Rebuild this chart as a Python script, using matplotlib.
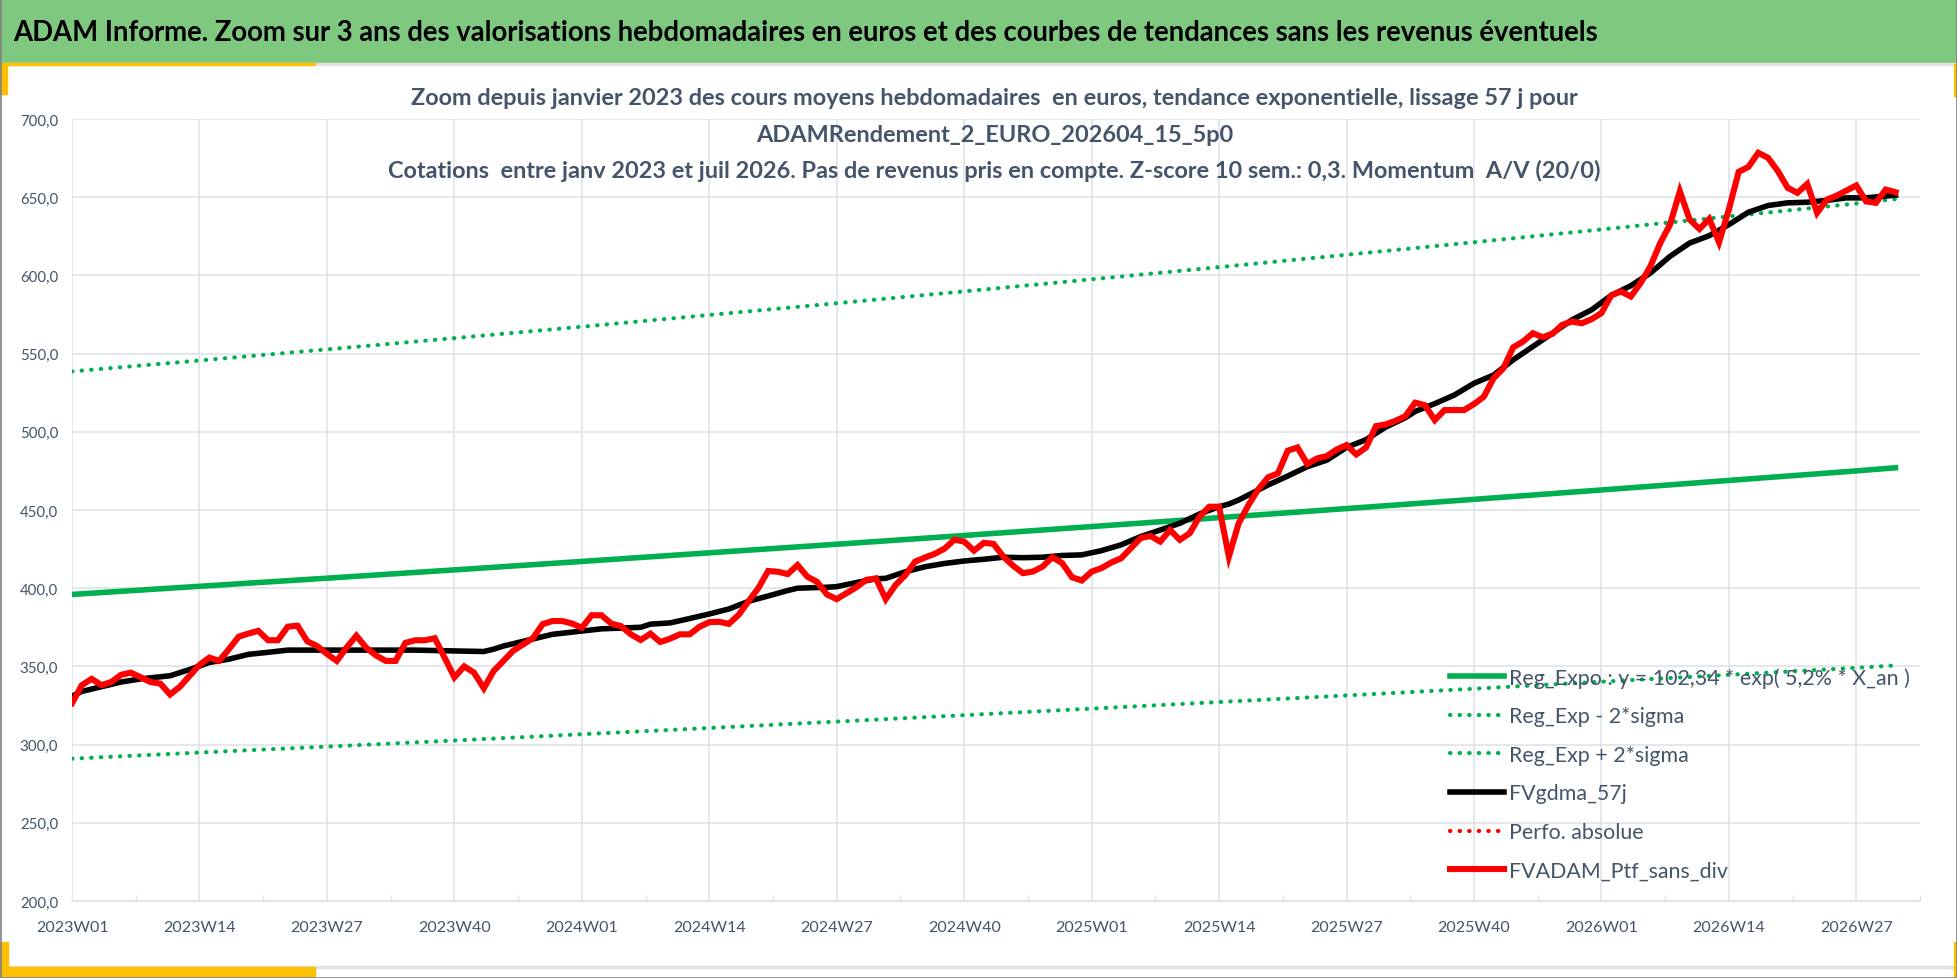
import numpy as np
import matplotlib.pyplot as plt
from matplotlib.patches import Rectangle

plt.rcParams['font.family'] = ['Lato', 'DejaVu Sans']

# weekly prices, 2023W01 .. 2026W31 (index 0 .. 186)
ptf = [326.5, 338, 342, 338, 340, 344.6, 346, 343, 340, 339,
       332, 337, 344, 351, 355.6, 353.5, 361, 369, 371, 372.7,
       366.7, 366.7, 375.4, 376, 366, 363, 358, 353.5, 362, 369.6,
       362, 357, 353.5, 353.5, 365, 366.7, 366.7, 368, 355.6, 343,
       350, 346, 336, 347, 353.5, 360, 364, 368, 377, 379,
       379, 377.4, 374.7, 382.7, 382.7, 377.4, 375.7, 370.5, 366.9, 370.9,
       365.6, 367.7, 370.5, 370.5, 375.3, 378.3, 378.5, 377.2, 383, 391.6,
       400, 411, 410.5, 409, 414.8, 407.4, 404, 396, 393, 396.8,
       400.6, 405.3, 406.3, 393, 402, 408.4, 417, 419.6, 422, 425.3,
       431, 429.8, 424, 429, 428.3, 420.2, 414.3, 409.6, 410.6, 413.8,
       419.8, 416, 407, 404.9, 410.6, 412.8, 416.4, 419.1, 425.5, 432,
       433.4, 429.8, 437.2, 430.9, 435.1, 445.7, 452.1, 452.1, 420.2, 441.5,
       453.2, 463.2, 470.9, 473.4, 487.9, 490, 479.4, 483, 484.5, 488.7,
       491.5, 485.5, 490, 503.6, 504.7, 507, 510, 518.6, 517, 507.5,
       513.9, 513.9, 513.9, 517.7, 522.4, 534.2, 540.6, 554, 557.7, 563,
       560.5, 562.6, 568.4, 570.5, 569.4, 572, 575.9, 587.2, 589.7, 586.5,
       595.1, 605.8, 620.7, 632.5, 653.8, 635.7, 629.7, 636.1, 621.2, 642.1,
       666.2, 669.4, 678.4, 675.2, 666.7, 656, 652.8, 658.5, 640, 648.5,
       651, 654.3, 657.5, 647.4, 646.4, 654.9, 653.2]

# 57 day moving average, read every week or two
gdma_wk = [0, 1, 3, 5, 7, 10, 12, 14, 16, 18, 20, 22, 26, 30, 35, 38, 42, 43, 44, 46,
           49, 52, 54, 58, 59, 61, 63, 65, 67, 69, 71, 73, 74, 77, 78, 80, 82, 83, 85, 87,
           89, 91, 93, 95, 97, 99, 101, 103, 105, 107, 109, 111, 113, 115, 117, 118, 119, 120, 122, 124,
           126, 128, 130, 132, 134, 136, 137, 139, 141, 143, 145, 147, 149, 151, 153, 155, 157, 159, 161, 163,
           165, 167, 169, 171, 173, 175, 177, 179, 181, 183, 186]
gdma = [331, 334, 337, 340, 342, 344, 348, 352.5, 354.6, 357.7, 359, 360.4, 360.4, 360.4, 360.4, 360, 359.5, 361, 363, 366,
        370.5, 372.6, 374, 375, 377, 377.8, 380.6, 383.5, 386.7, 391.6, 395, 398.5, 400, 400.6, 401, 403.6, 406, 406.3, 410.5, 413.7,
        415.8, 417.4, 418.5, 419.8, 419.5, 419.8, 420.9, 421.3, 424, 427.7, 433, 437.2, 441.5, 447.4, 452.1, 453.8, 456.4, 459.6, 466, 471.7,
        477.7, 481.9, 490, 495, 503, 509, 513, 518, 523.5, 531, 536.3, 546, 554.5, 563, 571.6, 578, 587.2, 593.4, 601.5, 612.2,
        620.7, 625.4, 632.5, 640.4, 644.7, 646.4, 646.8, 648, 649.6, 649.6, 651.3]

# exponential trend and +/- 2 sigma, read at each quarter
trend_wk = [0, 13, 26, 39, 52, 65, 78, 91, 104, 117, 130, 143, 156, 169, 182, 186]
reg_expo = [396, 401.2, 406.4, 411.7, 417.1, 422.6, 428.1, 433.7, 439.4, 445.1, 450.9, 456.8, 462.8, 468.9, 475.0, 477.0]
reg_low = [291, 294.9, 298.7, 302.6, 306.6, 310.6, 314.7, 318.8, 323, 327.2, 331.4, 335.7, 340.2, 344.6, 349.1, 350.6]
reg_high = [538.6, 545.6, 552.7, 559.9, 567.2, 574.7, 582.2, 589.8, 597.5, 605.3, 613.2, 621.2, 629.4, 637.7, 646.0, 648.8]

week_labels = ["2023W01", "2023W14", "2023W27", "2023W40", "2024W01", "2024W14", "2024W27", "2024W40",
               "2025W01", "2025W14", "2025W27", "2025W40", "2026W01", "2026W14", "2026W27"]
y_ticks = [200, 250, 300, 350, 400, 450, 500, 550, 600, 650, 700]

title = "ADAM Informe. Zoom sur 3 ans des valorisations hebdomadaires en euros et des courbes de tendances sans les revenus éventuels"
sub1 = "Zoom depuis janvier 2023 des cours moyens hebdomadaires  en euros, tendance exponentielle, lissage 57 j pour"
sub2 = "ADAMRendement_2_EURO_202604_15_5p0"
sub3 = "Cotations  entre janv 2023 et juil 2026. Pas de revenus pris en compte. Z-score 10 sem.: 0,3. Momentum  A/V (20/0)"

slate = '#44546a'
green = '#00b050'
grid = '#dde1e8'
gold = '#ffc000'
dots = (0, (0.1, 2.2))

fig = plt.figure(figsize=(19.58, 9.79), dpi=100)

# frame decorations
fig.patches.append(Rectangle((0, 0.9346), 1, 0.0654, transform=fig.transFigure, color='#7ec87f', zorder=0))
fig.patches.append(Rectangle((0, 0.9326), 1, 0.002, transform=fig.transFigure, color='#e4e4e4', zorder=0))
fig.patches.append(Rectangle((0, 0.9326), 0.161, 0.0025, transform=fig.transFigure, color=gold, zorder=1))
fig.patches.append(Rectangle((0, 0.903), 0.0036, 0.031, transform=fig.transFigure, color=gold, zorder=1))
fig.patches.append(Rectangle((0.9978, 0.901), 0.0022, 0.033, transform=fig.transFigure, color=gold, zorder=1))
fig.patches.append(Rectangle((0, 0.0105), 1, 0.0015, transform=fig.transFigure, color='#e0e0e0', zorder=0))
fig.patches.append(Rectangle((0, 0.002), 0.161, 0.0095, transform=fig.transFigure, color=gold, zorder=1))
fig.patches.append(Rectangle((0, 0.002), 0.0041, 0.035, transform=fig.transFigure, color=gold, zorder=1))
fig.patches.append(Rectangle((0.9978, 0.002), 0.0018, 0.035, transform=fig.transFigure, color=gold, zorder=1))
fig.patches.append(Rectangle((0.0003, 0.0005), 0.9994, 0.999, transform=fig.transFigure, fill=False,
                             edgecolor='#808080', linewidth=1.2, zorder=2))

fig.text(0.0066, 0.966, title, fontsize=19.8, fontweight='bold', color='black', va='center', ha='left')
fig.text(0.508, 0.899, sub1, fontsize=16.9, fontweight='bold', color=slate, ha='center', va='center')
fig.text(0.508, 0.862, sub2, fontsize=16.9, fontweight='bold', color=slate, ha='center', va='center')
fig.text(0.508, 0.825, sub3, fontsize=16.9, fontweight='bold', color=slate, ha='center', va='center')

ax = fig.add_axes([0.0368, 0.0787, 0.9438, 0.7987])
ax.set_facecolor('none')

ax.plot(trend_wk, reg_expo, color=green, linewidth=4, label="Reg_Expo : y = 102,34 * exp( 5,2% * X_an )", zorder=3)
ax.plot(trend_wk, reg_low, color=green, linewidth=3, linestyle=dots, dash_capstyle='round',
        label="Reg_Exp - 2*sigma", zorder=3)
ax.plot(trend_wk, reg_high, color=green, linewidth=3, linestyle=dots, dash_capstyle='round',
        label="Reg_Exp + 2*sigma", zorder=3)
ax.plot(gdma_wk, gdma, color='black', linewidth=4, label="FVgdma_57j", zorder=4)
ax.plot([], [], color='red', linewidth=3, linestyle=dots, dash_capstyle='round', label="Perfo. absolue")
ax.plot(np.arange(len(ptf)), ptf, color='red', linewidth=4.4, solid_joinstyle='miter',
        label="FVADAM_Ptf_sans_div", zorder=5)

ax.set_xlim(0, len(ptf) - 1)
ax.set_ylim(200, 700)
ax.set_xticks(np.arange(len(week_labels)) * 13)
ax.set_xticklabels(week_labels)
ax.set_xticks(np.arange(len(week_labels)) * 13 + 6.5, minor=True)
ax.set_yticks(y_ticks)
ax.set_yticklabels(["%d,0" % v for v in y_ticks])
ax.tick_params(axis='x', which='major', length=0, pad=14, labelsize=11.5, labelcolor=slate)
ax.tick_params(axis='x', which='minor', direction='in', length=4, width=1, color=grid)
ax.tick_params(axis='y', length=0, pad=10, labelsize=10.8, labelcolor=slate)
ax.grid(True, which='major', color=grid, linewidth=1.1)
for s in ['top', 'right', 'left']:
    ax.spines[s].set_visible(False)
ax.spines['bottom'].set_color(grid)
ax.spines['bottom'].set_linewidth(1.1)
ax.set_axisbelow(True)

ax.legend(loc='upper left', bbox_to_anchor=(0.7406, 0.3176), bbox_transform=fig.transFigure,
          frameon=False, fontsize=15.4, labelcolor=slate, handlelength=2.53, handletextpad=0.21,
          labelspacing=0.87, borderpad=0, borderaxespad=0)

fig.savefig('out.png', dpi=100)
